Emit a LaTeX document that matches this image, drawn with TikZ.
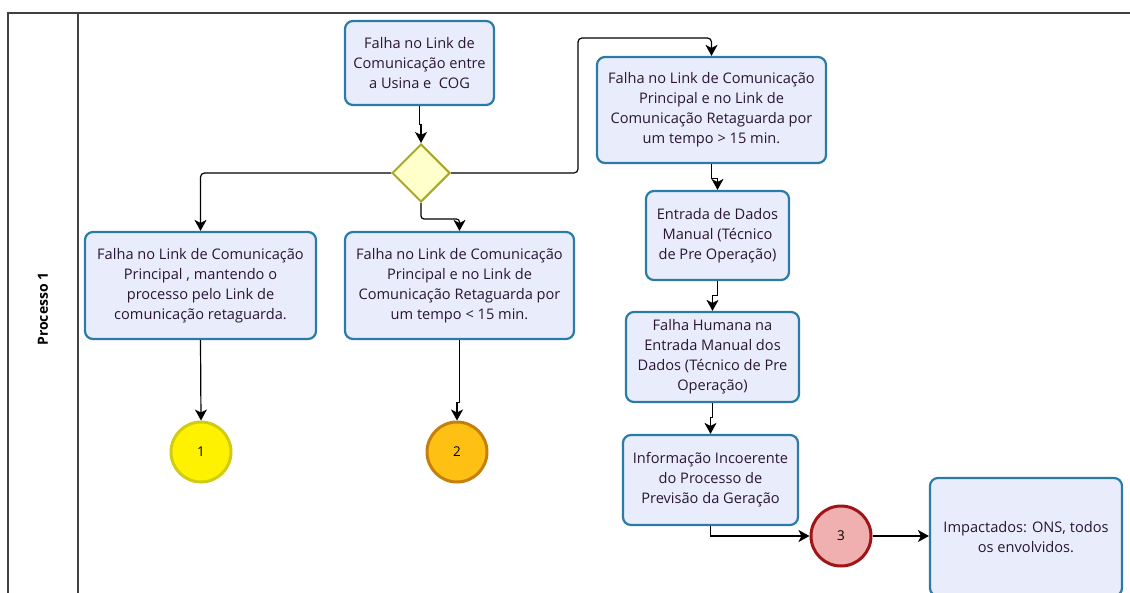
\documentclass[tikz,border=0pt]{standalone}
\usepackage{fontspec}
\setmainfont{Open Sans}
\usetikzlibrary{arrows.meta,shapes.geometric,calc}
\definecolor{boxfill}{HTML}{E9EDFB}
\definecolor{boxline}{HTML}{2A7BA6}
\definecolor{txt}{HTML}{2A1535}
\definecolor{frameline}{HTML}{404040}
\definecolor{gateline}{RGB}{168,168,40}
\definecolor{gatefill}{RGB}{255,255,204}
\tikzset{
  task/.style={draw=boxline, fill=boxfill, line width=2.2pt, rounded corners=8pt,
    align=center, inner sep=0pt, font=\fontsize{14.6}{20}\selectfont, text=txt},
  gate/.style={diamond, draw=gateline, fill=gatefill, line width=2pt,
    minimum width=58pt, minimum height=58pt, inner sep=0pt},
  evt/.style={circle, line width=3pt, minimum size=60pt, inner sep=0pt,
    font=\fontsize{13.5}{15}\selectfont, text=black},
  arr/.style={-{Stealth[length=11pt,width=12pt,inset=3pt]}, line width=1.2pt, black},
  frame/.style={draw=frameline, line width=1.3pt}
}
\begin{document}
\begin{tikzpicture}[x=1pt,y=-1pt]
\useasboundingbox (0,0) rectangle (1130,592);
\clip (0,0) rectangle (1130,592);
% lane frame
\draw[frame] (1135,13) -- (8,13) -- (8,600);
\draw[frame] (78,13) -- (78,600);
\node[rotate=90, font=\bfseries\fontsize{14}{16}\selectfont] (lane) at (43,309) {Processo 1};
% nodes
\node[task, minimum width=149pt, minimum height=84pt] (A) at (419.5,63) {Falha no Link de\\Comunicação entre\\a Usina e\ \ COG};
\node[gate] (dia) at (421,173) {};
\node[task, minimum width=231pt, minimum height=107pt] (B) at (200.5,285.5) {Falha no Link de Comunicação\\Principal , mantendo o\\processo pelo Link de\\comunicação retaguarda.};
\node[task, minimum width=229pt, minimum height=107pt] (C) at (459.5,285.5) {Falha no Link de Comunicação\\Principal e no Link de\\Comunicação Retaguarda por\\um tempo < 15 min.};
\node[task, minimum width=229pt, minimum height=106pt] (D) at (711.5,110) {Falha no Link de Comunicação\\Principal e no Link de\\Comunicação Retaguarda por\\um tempo > 15 min.};
\node[task, minimum width=143pt, minimum height=89pt] (E) at (717.5,235.5) {Entrada de Dados\\Manual (Técnico\\de Pre Operação)};
\node[task, minimum width=173pt, minimum height=90pt] (F) at (712.5,357) {Falha Humana na\\Entrada Manual dos\\Dados (Técnico de Pre\\Operação)};
\node[task, minimum width=175pt, minimum height=90pt] (G) at (710.5,480) {Informação Incoerente\\do Processo de\\Previsão da Geração};
\node[task, minimum width=192pt, minimum height=118pt] (H) at (1026,537) {Impactados: ONS, todos\\os envolvidos.};
\node[evt, draw={rgb,255:red,208;green,204;blue,20}, fill=yellow] (c1) at (201,452) {1};
\node[evt, draw={rgb,255:red,196;green,128;blue,10}, fill={rgb,255:red,255;green,192;blue,20}] (c2) at (457,452) {2};
\node[evt, draw={rgb,255:red,160;green,20;blue,25}, fill={rgb,255:red,240;green,176;blue,176}] (c3) at (841,536) {3};
% connectors
\draw[arr] (A.south) -- ++(0,18) -| (dia.north);
\draw[arr, rounded corners=4pt] (dia.west) -| (B.north);
\draw[arr, rounded corners=3pt] (dia.south) -- ++(0,16) -| (C.north);
\draw[arr, rounded corners=4pt] (dia.east) -- ++(127,0) -- ++(0,-135) -| (D.north);
\draw[arr] (D.south) -- ++(0,14) -| (E.north);
\draw[arr] (E.south) -- ++(0,14) -| (F.north);
\draw[arr] (F.south) -- ++(0,14) -| (G.north);
\draw[arr] (G.south) |- (c3.west);
\draw[arr] (c3.east) -- (c3.east -| H.west);
\draw[arr] (B.south) -- (c1.north);
\draw[arr] (C.south) -- ++(0,62) -| (c2.north);
\end{tikzpicture}
\end{document}
